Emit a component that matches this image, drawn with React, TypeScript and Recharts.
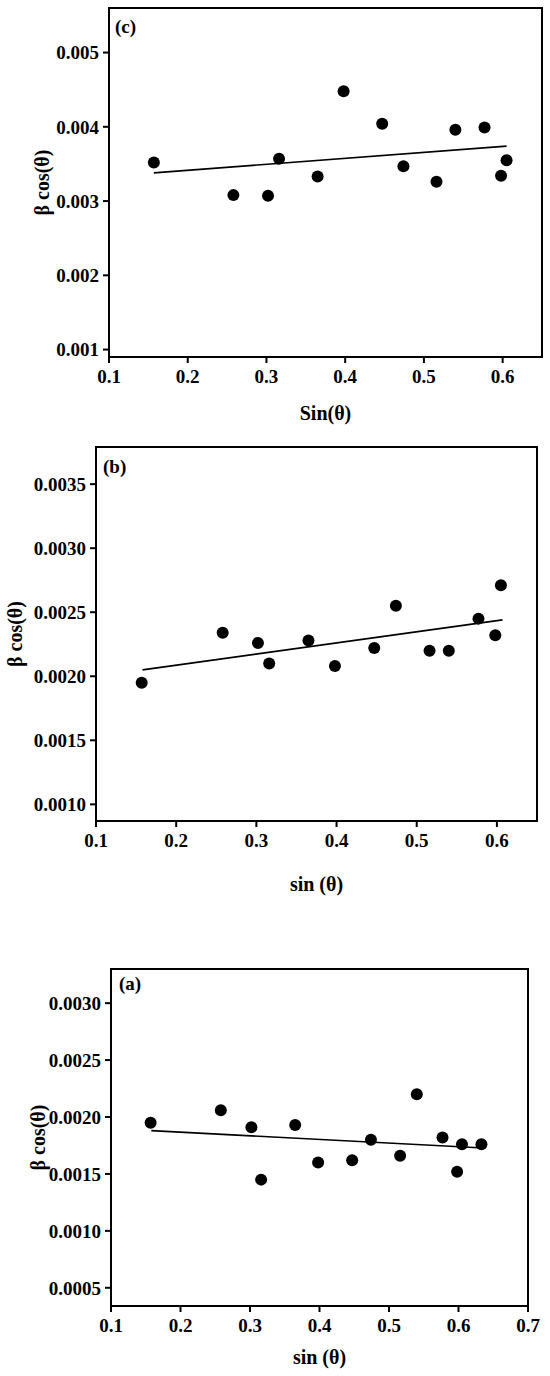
import React from "react";
import { ScatterChart, Scatter, XAxis, YAxis, ReferenceArea } from "recharts";

// sin(theta) of the diffraction peaks, shared by the three samples
const sinTheta = [0.157, 0.258, 0.302, 0.316, 0.365, 0.398, 0.447, 0.474, 0.516, 0.54, 0.577, 0.598, 0.605];
const sinThetaA = [...sinTheta, 0.633];

// beta cos(theta)
const betaCosC = [0.00352, 0.00308, 0.00307, 0.00357, 0.00333, 0.00448, 0.00404, 0.00347, 0.00326, 0.00396, 0.00399, 0.00334, 0.00355];
const betaCosB = [0.00195, 0.00234, 0.00226, 0.0021, 0.00228, 0.00208, 0.00222, 0.00255, 0.0022, 0.0022, 0.00245, 0.00232, 0.00271];
const betaCosA = [0.00195, 0.00206, 0.00191, 0.00145, 0.00193, 0.0016, 0.00162, 0.0018, 0.00166, 0.0022, 0.00182, 0.00152, 0.00176, 0.00176];

// linear fit end points
const fitXC = [0.157, 0.605];
const fitYC = [0.00338, 0.00374];
const fitXB = [0.158, 0.607];
const fitYB = [0.00205, 0.00244];
const fitXA = [0.158, 0.629];
const fitYA = [0.00188, 0.00173];

// tick labels
const xTicksBC = [0.1, 0.2, 0.3, 0.4, 0.5, 0.6];
const xTicksA = [0.1, 0.2, 0.3, 0.4, 0.5, 0.6, 0.7];
const yTicksC = [0.001, 0.002, 0.003, 0.004, 0.005];
const yTicksB = [0.001, 0.0015, 0.002, 0.0025, 0.003, 0.0035];
const yTicksA = [0.0005, 0.001, 0.0015, 0.002, 0.0025, 0.003];

const toPoints = (xs: number[], ys: number[]) => xs.map((x, i) => ({ x, y: ys[i] }));

const font = "'Liberation Serif', 'Times New Roman', serif";
const tickStyle = { fill: "#000", fontSize: 19, fontWeight: 700, fontFamily: font };
const titleStyle: React.CSSProperties = { fill: "#000", fontSize: 20, fontWeight: 700, fontFamily: font };

function XTitle(props: any) {
  const { viewBox, title, dist } = props;
  const x = viewBox.x + viewBox.width / 2;
  return (
    <text x={x} y={viewBox.y + dist} textAnchor="middle" dominantBaseline="central" style={titleStyle}>
      {title}
    </text>
  );
}

function YTitle(props: any) {
  const { viewBox, title, cx } = props;
  const cy = viewBox.y + viewBox.height / 2;
  return (
    <text
      x={cx}
      y={cy}
      transform={`rotate(-90 ${cx} ${cy})`}
      textAnchor="middle"
      dominantBaseline="central"
      style={titleStyle}
    >
      {title}
    </text>
  );
}

const Dot = (props: any) => <circle cx={props.cx} cy={props.cy} r={6} fill="#000" />;
const NoDot = () => <g />;

interface PanelProps {
  top: number;
  height: number;
  margin: { top: number; right: number; left: number; bottom: number };
  yAxisWidth: number;
  xAxisHeight: number;
  xDomain: [number, number];
  yDomain: [number, number];
  xTicks: number[];
  yTicks: number[];
  yDigits: number;
  points: { x: number; y: number }[];
  fit: { x: number; y: number }[];
  xTitle: string;
  xTitleDist: number;
  yTitleX: number;
  tag: string;
  tagLeft: number;
  tagTop: number;
}

function Panel(p: PanelProps) {
  return (
    <div style={{ position: "absolute", left: 0, top: p.top, width: 550, height: p.height }}>
      <ScatterChart width={550} height={p.height} margin={p.margin}>
        <XAxis
          type="number"
          dataKey="x"
          domain={p.xDomain}
          allowDataOverflow
          ticks={p.xTicks}
          tickFormatter={(v) => Number(v).toFixed(1)}
          tick={tickStyle}
          tickSize={6}
          tickMargin={7}
          height={p.xAxisHeight}
          axisLine={{ stroke: "#000", strokeWidth: 2 }}
          tickLine={{ stroke: "#000", strokeWidth: 2 }}
          label={<XTitle title={p.xTitle} dist={p.xTitleDist} />}
        />
        <YAxis
          type="number"
          dataKey="y"
          domain={p.yDomain}
          allowDataOverflow
          ticks={p.yTicks}
          tickFormatter={(v) => Number(v).toFixed(p.yDigits)}
          tick={tickStyle}
          tickSize={6}
          tickMargin={4}
          width={p.yAxisWidth}
          axisLine={{ stroke: "#000", strokeWidth: 2 }}
          tickLine={{ stroke: "#000", strokeWidth: 2 }}
          label={<YTitle title={"β cos(θ)"} cx={p.yTitleX} />}
        />
        <ReferenceArea
          x1={p.xDomain[0]}
          x2={p.xDomain[1]}
          y1={p.yDomain[0]}
          y2={p.yDomain[1]}
          fill="none"
          fillOpacity={0}
          stroke="#000"
          strokeWidth={2}
        />
        <Scatter
          data={p.fit}
          line={{ stroke: "#000", strokeWidth: 1.6 }}
          shape={NoDot}
          isAnimationActive={false}
        />
        <Scatter data={p.points} shape={Dot} isAnimationActive={false} />
      </ScatterChart>
      <div
        style={{
          position: "absolute",
          left: p.tagLeft,
          top: p.tagTop,
          fontFamily: font,
          fontWeight: 700,
          fontSize: 19,
          lineHeight: "19px",
          color: "#000",
        }}
      >
        {p.tag}
      </div>
    </div>
  );
}

export default function App() {
  return (
    <div style={{ position: "absolute", left: 0, top: 0, width: 550, height: 1376, background: "#fff" }}>
      <Panel
        top={0}
        height={440}
        margin={{ top: 8, right: 8, left: 0, bottom: 0 }}
        yAxisWidth={109}
        xAxisHeight={83}
        xDomain={[0.1, 0.65]}
        yDomain={[0.0009, 0.0056]}
        xTicks={xTicksBC}
        yTicks={yTicksC}
        yDigits={3}
        points={toPoints(sinTheta, betaCosC)}
        fit={toPoints(fitXC, fitYC)}
        xTitle="Sin(θ)"
        xTitleDist={56}
        yTitleX={42}
        tag="(c)"
        tagLeft={115}
        tagTop={17}
      />
      <Panel
        top={440}
        height={520}
        margin={{ top: 7, right: 13, left: 0, bottom: 0 }}
        yAxisWidth={96}
        xAxisHeight={139}
        xDomain={[0.1, 0.65]}
        yDomain={[0.00087, 0.00379]}
        xTicks={xTicksBC}
        yTicks={yTicksB}
        yDigits={4}
        points={toPoints(sinTheta, betaCosB)}
        fit={toPoints(fitXB, fitYB)}
        xTitle="sin (θ)"
        xTitleDist={63}
        yTitleX={15}
        tag="(b)"
        tagLeft={103}
        tagTop={17}
      />
      <Panel
        top={960}
        height={416}
        margin={{ top: 9, right: 22, left: 0, bottom: 0 }}
        yAxisWidth={111}
        xAxisHeight={70}
        xDomain={[0.1, 0.7]}
        yDomain={[0.00034, 0.0033]}
        xTicks={xTicksA}
        yTicks={yTicksA}
        yDigits={4}
        points={toPoints(sinThetaA, betaCosA)}
        fit={toPoints(fitXA, fitYA)}
        xTitle="sin (θ)"
        xTitleDist={51}
        yTitleX={38}
        tag="(a)"
        tagLeft={119}
        tagTop={14}
      />
    </div>
  );
}
